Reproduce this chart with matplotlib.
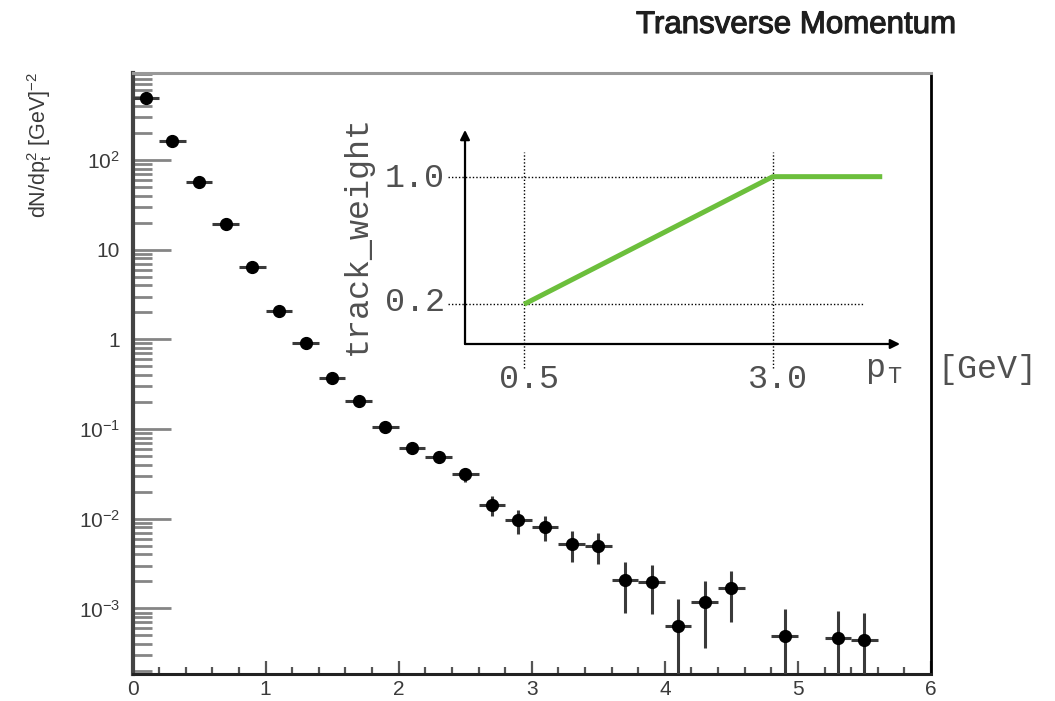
import numpy as np
import matplotlib
matplotlib.use("Agg")
import matplotlib.pyplot as plt
import matplotlib.patheffects as pe
from matplotlib.ticker import FixedLocator, FixedFormatter, LogLocator, NullFormatter, MultipleLocator

plt.rcParams["font.family"] = ["Liberation Sans", "DejaVu Sans"]
plt.rcParams["mathtext.fontset"] = "custom"
plt.rcParams["mathtext.rm"] = "Liberation Sans"
plt.rcParams["mathtext.it"] = "Liberation Sans:italic"
plt.rcParams["mathtext.bf"] = "Liberation Sans:bold"

# ---- histogram: dN/dpt^2 per 0.2 GeV bin (empty bins omitted) ----
pt_centers = [0.1, 0.3, 0.5, 0.7, 0.9, 1.1, 1.3, 1.5, 1.7, 1.9, 2.1, 2.3, 2.5,
              2.7, 2.9, 3.1, 3.3, 3.5, 3.7, 3.9, 4.1, 4.3, 4.5, 4.9, 5.3, 5.5]
dn_dpt2 = [487, 163, 57.3, 19.3, 6.46, 2.06, 0.906, 0.374, 0.206, 0.106,
           0.0621, 0.0492, 0.0316, 0.0143, 0.0096, 0.0082, 0.0053, 0.0050,
           0.0021, 0.00196, 0.00063, 0.00119, 0.00168, 0.00049, 0.00047, 0.00045]
dn_dpt2_err = [3.5, 1.2, 0.54, 0.26, 0.13, 0.068, 0.042, 0.025, 0.017, 0.012,
               0.0086, 0.0073, 0.0056, 0.0036, 0.0029, 0.0025, 0.0020, 0.0019,
               0.0012, 0.0011, 0.00063, 0.00083, 0.00097, 0.00049, 0.00047, 0.00045]
bin_half_width = 0.1

y_major = [1e-3, 1e-2, 1e-1, 1, 10, 1e2]
y_major_labels = ["$10^{-3}$", "$10^{-2}$", "$10^{-1}$", "1", "10", "$10^{2}$"]
x_major = [0, 1, 2, 3, 4, 5, 6]

# ---- track weight versus pT ----
weight_pt = [0.5, 3.0, 4.1]
weight_val = [0.2, 1.0, 1.0]
weight_pt_ticks = [0.5, 3.0]
weight_pt_labels = ["0.5", "3.0"]
weight_ticks = [0.2, 1.0]
weight_labels = ["0.2", "1.0"]

W, H = 1055, 701
fig = plt.figure(figsize=(W / 100, H / 100), dpi=100)

def fx(px):
    return px / W

def fy(py):
    return 1 - py / H

ax = fig.add_axes([fx(132.5), fy(674), fx(931 - 132.5), (674 - 73) / H])

y = np.array(dn_dpt2)
e = np.array(dn_dpt2_err)
lower = np.minimum(e, y * 0.999)
ax.errorbar(pt_centers, y, xerr=bin_half_width, yerr=[lower, e], fmt="o",
            color="black", ms=8.5, ecolor="#3a3a3a", elinewidth=2.2, capsize=0, zorder=3)

ax.set_xlim(0, 6)
ax.set_yscale("log")
ax.set_ylim(1.86e-4, 933)

ax.yaxis.set_major_locator(FixedLocator(y_major))
ax.yaxis.set_major_formatter(FixedFormatter(y_major_labels))
ax.yaxis.set_minor_locator(LogLocator(base=10, subs=np.arange(2, 10), numticks=30))
ax.yaxis.set_minor_formatter(NullFormatter())
ax.xaxis.set_major_locator(FixedLocator(x_major))
ax.xaxis.set_minor_locator(MultipleLocator(0.2))

ax.tick_params(axis="y", which="major", direction="in", length=27, width=2.0,
               color="#858585", pad=9, labelsize=15, labelcolor="#3a3a3a")
ax.tick_params(axis="y", which="minor", direction="in", length=13.5, width=2.0,
               color="#858585")
ax.tick_params(axis="x", which="major", direction="in", length=9.5, width=1.6,
               color="#555555", pad=4, labelsize=15, labelcolor="#3a3a3a")
ax.tick_params(axis="x", which="minor", direction="in", length=5, width=1.6,
               color="#555555")

ax.spines["left"].set_linewidth(3.0)
ax.spines["left"].set_color("#444444")
ax.spines["bottom"].set_linewidth(2.2)
ax.spines["bottom"].set_color("#222222")
ax.spines["right"].set_linewidth(2.0)
ax.spines["right"].set_color("black")
ax.spines["top"].set_linewidth(2.2)
ax.spines["top"].set_color("#999999")

fig.text(fx(40), fy(145), r"dN/dp$_{\mathrm{t}}^{2}$ [GeV]$^{-2}$", rotation=90,
         ha="center", va="center", fontsize=15.5, color="#3a3a3a")
fig.text(fx(636), fy(33), "Transverse Momentum", ha="left", va="baseline",
         fontsize=22.5, color="#1e1e1e",
         path_effects=[pe.withStroke(linewidth=0.8, foreground="#1e1e1e")])

# ---- inset: weight function ----
ins = fig.add_axes([fx(448), fy(370), fx(910 - 448), (370 - 128) / H])
ins.set_xlim(-0.264, 4.379)
ins.set_ylim(-0.212, 1.305)
ins.axis("off")
ins.patch.set_alpha(0)

x_axis_at = -0.049
y_axis_at = -0.093
dot = dict(color="black", lw=1.0, linestyle=(0, (1, 1.5)))
ins.plot([-0.264, weight_pt[-1]], [weight_ticks[1]] * 2, **dot)
ins.plot([-0.264, 3.904], [weight_ticks[0]] * 2, **dot)
for p in weight_pt_ticks:
    ins.plot([p, p], [-0.199, 1.157], clip_on=False, **dot)

arrow = dict(arrowstyle="-|>", lw=1.6, color="black", mutation_scale=14,
             shrinkA=0, shrinkB=0)
ins.annotate("", xy=(y_axis_at, 1.293), xytext=(y_axis_at, x_axis_at), arrowprops=arrow)
ins.annotate("", xy=(4.279, x_axis_at), xytext=(y_axis_at, x_axis_at), arrowprops=arrow)

ins.plot(weight_pt, weight_val, color="#6cbf3c", lw=3.6, solid_capstyle="butt", zorder=4)

mono = ["Liberation Mono", "DejaVu Sans Mono"]
tcol = "#505050"
for v, lab, base in zip(weight_ticks, weight_labels, [0.160, 0.9335]):
    ins.text(-0.294, base, lab, ha="right", va="baseline", fontsize=24,
             family=mono, color=tcol)
for p, lab in zip(weight_pt_ticks, weight_pt_labels):
    ins.text(p + 0.055, -0.327, lab, ha="center", va="baseline", fontsize=24,
             family=mono, color=tcol, clip_on=False)
ins.text(3.927, -0.256, "p", ha="left", va="baseline", fontsize=24, family=mono, color=tcol)
ins.text(4.148, -0.293, "T", ha="left", va="baseline", fontsize=17, family=mono, color=tcol)
ins.text(4.651, -0.262, "[GeV]", ha="left", va="baseline", fontsize=24, family=mono, color=tcol)
ins.text(-1.178, 0.634, "track_weight", rotation=90, ha="center", va="center",
         fontsize=24, family=mono, color=tcol)

fig.savefig("out.png", dpi=100)
